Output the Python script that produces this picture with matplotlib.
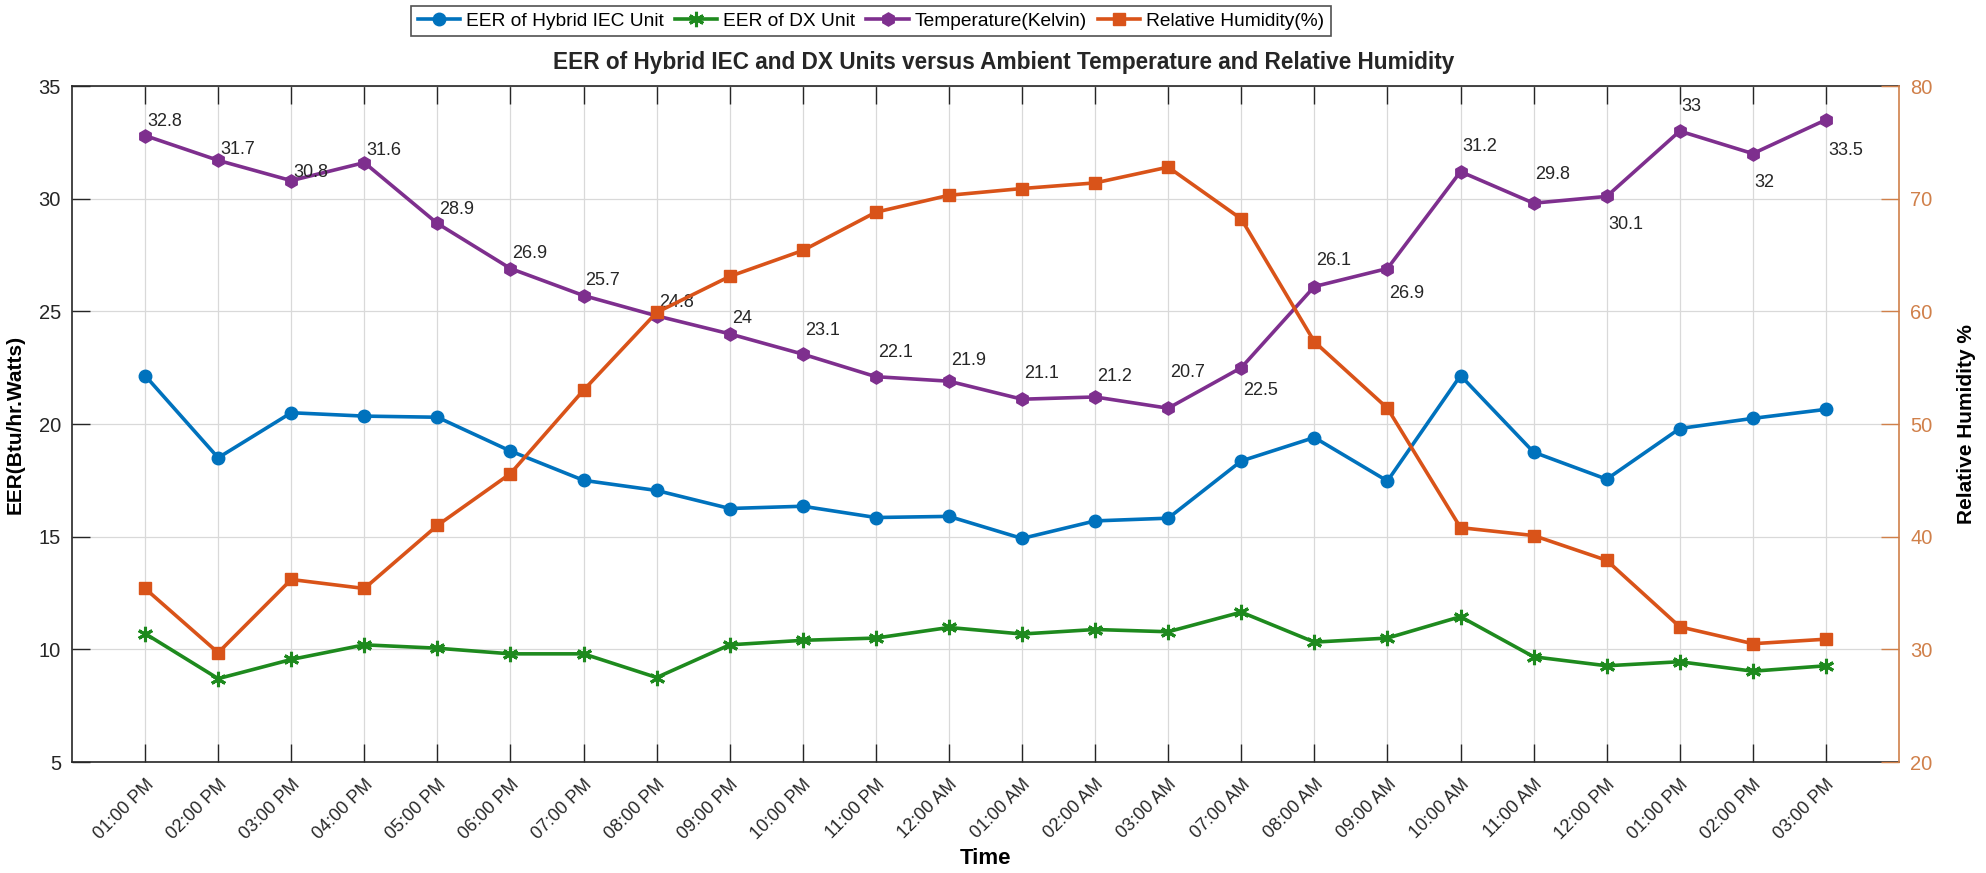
import matplotlib
matplotlib.use("Agg")
import matplotlib.pyplot as plt
import matplotlib.transforms as mtransforms
import numpy as np

times = ["01:00 PM", "02:00 PM", "03:00 PM", "04:00 PM", "05:00 PM", "06:00 PM",
         "07:00 PM", "08:00 PM", "09:00 PM", "10:00 PM", "11:00 PM", "12:00 AM",
         "01:00 AM", "02:00 AM", "03:00 AM", "07:00 AM", "08:00 AM", "09:00 AM",
         "10:00 AM", "11:00 AM", "12:00 PM", "01:00 PM", "02:00 PM", "03:00 PM"]

eer_iec = [22.15, 18.5, 20.5, 20.35, 20.3, 18.8, 17.5, 17.05, 16.25, 16.35, 15.85, 15.9,
           14.92, 15.7, 15.82, 18.36, 19.4, 17.47, 22.15, 18.75, 17.55, 19.8, 20.25, 20.65]

eer_dx = [10.7, 8.7, 9.55, 10.2, 10.05, 9.8, 9.8, 8.75, 10.2, 10.4, 10.5, 10.97,
          10.68, 10.88, 10.78, 11.65, 10.32, 10.5, 11.45, 9.67, 9.27, 9.45, 9.03, 9.27]

temperature = [32.8, 31.7, 30.8, 31.6, 28.9, 26.9, 25.7, 24.8, 24, 23.1, 22.1, 21.9,
               21.1, 21.2, 20.7, 22.5, 26.1, 26.9, 31.2, 29.8, 30.1, 33, 32, 33.5]

humidity = [35.4, 29.7, 36.2, 35.4, 41.0, 45.6, 53.0, 59.9, 63.1, 65.4, 68.8, 70.3,
            70.9, 71.4, 72.8, 68.2, 57.3, 51.4, 40.8, 40.1, 37.9, 32.0, 30.5, 30.9]

# vertical offsets (pixels) of the temperature value labels (style only)
label_offsets = [14, 11, 8, 12, 14, 15, 15, 13, 15, 24, 24, 21,
                 26, 20, 36, -23, 26, -25, 25, 29, -28, 25, -29, -31]

FONT = ["Liberation Sans", "DejaVu Sans"]
plt.rcParams["font.family"] = FONT

C_BLUE = "#0072BD"
C_GREEN = "#1E8A1E"
C_PURPLE = "#7E2F8E"
C_ORANGE = "#D95319"
C_RAX = "#D0804A"

fig = plt.figure(figsize=(19.86, 8.73), dpi=100)
ax = fig.add_axes([72 / 1986, 111 / 873, 1827 / 1986, 676 / 873])
ax2 = ax.twinx()

x = np.arange(len(times))

l1, = ax.plot(x, eer_iec, color=C_BLUE, lw=2.6, marker="o", ms=9, mfc=C_BLUE, mec=C_BLUE,
              label="EER of Hybrid IEC Unit", zorder=3)
l2, = ax.plot(x, eer_dx, color=C_GREEN, lw=2.6, marker=(6, 2, 0), ms=11, mew=2.2,
              mfc=C_GREEN, mec=C_GREEN, label="EER of DX Unit", zorder=3)
l3, = ax.plot(x, temperature, color=C_PURPLE, lw=2.6, marker="h", ms=9.5, mfc=C_PURPLE, mec=C_PURPLE,
              label="Temperature(Kelvin)", zorder=3)
l4, = ax2.plot(x, humidity, color=C_ORANGE, lw=2.6, marker="s", ms=8, mfc=C_ORANGE, mec=C_ORANGE,
               label="Relative Humidity(%)", zorder=3)

for i, (v, off) in enumerate(zip(temperature, label_offsets)):
    ax.annotate(f"{v:g}", (x[i], v), xytext=(2, off), textcoords="offset pixels",
                ha="left", va="center", fontsize=13, color="#262626", zorder=5)

ax.set_xlim(-1, 24)
ax.set_ylim(5, 35)
ax.set_yticks(np.arange(5, 36, 5))
ax2.set_ylim(20, 80)
ax2.set_yticks(np.arange(20, 81, 10))

ax.set_xticks(x)
ax.set_xticklabels(times, rotation=45, ha="right", rotation_mode="anchor", fontsize=13)
shift = mtransforms.ScaledTranslation(28 / 100, 0, fig.dpi_scale_trans)
for lab in ax.get_xticklabels():
    lab.set_transform(lab.get_transform() + shift)

ax.grid(True, color="#d9d9d9", lw=0.9)
ax.set_axisbelow(True)

ax.tick_params(axis="x", direction="in", length=13, width=1, top=True, colors="#262626",
               labelsize=13, pad=10)
ax.tick_params(axis="y", direction="in", length=13, width=1, colors="#262626", labelsize=14.5, pad=8)
ax2.tick_params(axis="y", direction="in", length=13, width=1, colors=C_RAX, labelsize=14.5, pad=8)

for s in ["left", "bottom", "top"]:
    ax.spines[s].set_color("#262626")
    ax.spines[s].set_linewidth(1.2)
ax.spines["right"].set_visible(False)
for s in ["left", "bottom", "top"]:
    ax2.spines[s].set_visible(False)
ax2.spines["right"].set_color(C_RAX)
ax2.spines["right"].set_linewidth(1.2)

ax.set_ylabel("EER(Btu/hr.Watts)", fontsize=15, fontweight="bold", labelpad=10)
ax2.set_ylabel("Relative Humidity %", fontsize=15, fontweight="bold", color="black", labelpad=18)
ax.set_xlabel("Time", fontsize=16, fontweight="bold", labelpad=4)

fig.text(1004 / 1986, 1 - 62 / 873,
         "EER of Hybrid IEC and DX Units versus Ambient Temperature and Relative Humidity",
         ha="center", va="center", fontsize=16.3, fontweight="bold", color="#262626")

leg = fig.legend(handles=[l1, l2, l3, l4], loc="center", ncol=4,
                 bbox_to_anchor=(871 / 1986, 1 - 21 / 873), fontsize=13.8,
                 frameon=True, fancybox=False, edgecolor="#262626", handlelength=2.2,
                 columnspacing=0.6, handletextpad=0.3, borderpad=0.35)
leg.get_frame().set_linewidth(1.2)

fig.savefig("out.png", dpi=100)
